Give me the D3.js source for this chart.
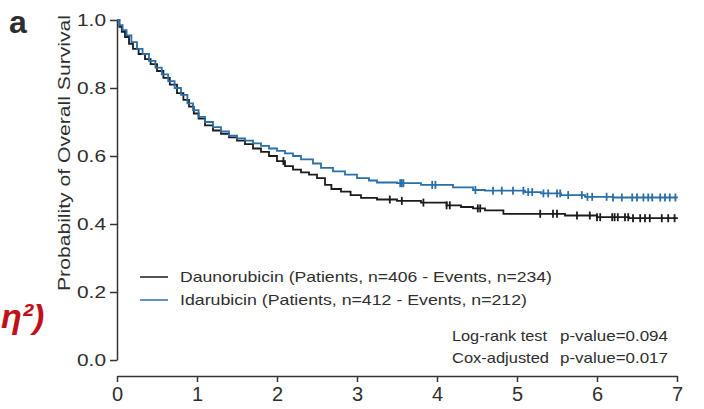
<!DOCTYPE html>
<html>
<head>
<meta charset="utf-8">
<script src="https://cdn.jsdelivr.net/npm/d3@7"></script>
<style>
  html, body { margin: 0; padding: 0; background: #fff; }
  svg { display: block; }
  text { font-family: "Liberation Sans", Arial, sans-serif; fill: #2e2e2e; }
</style>
</head>
<body>
<svg id="chart" width="704" height="409"></svg>
<script>
// Kaplan-Meier step estimates (years, survival probability)
const daunoTime = [0, 0.03, 0.06, 0.1, 0.15, 0.2, 0.27, 0.35, 0.42, 0.5, 0.58, 0.66, 0.75, 0.83, 0.9, 0.96,
  1.02, 1.1, 1.2, 1.3, 1.4, 1.5, 1.6, 1.7, 1.8, 1.9, 2.0, 2.1, 2.2, 2.3, 2.4, 2.5, 2.6, 2.68, 2.8, 2.92,
  3.05, 3.25, 3.5, 3.8, 4.12, 4.3, 4.45, 4.6, 4.83, 5.6, 6.0, 6.4, 7.0];
const daunoSurv = [1.0, 0.98, 0.965, 0.95, 0.93, 0.915, 0.9, 0.885, 0.87, 0.85, 0.83, 0.81, 0.785, 0.765, 0.745, 0.725,
  0.71, 0.69, 0.675, 0.665, 0.655, 0.645, 0.635, 0.622, 0.612, 0.6, 0.585, 0.57, 0.56, 0.552, 0.545, 0.535, 0.515, 0.503, 0.495, 0.485,
  0.477, 0.472, 0.468, 0.463, 0.455, 0.45, 0.446, 0.44, 0.43, 0.425, 0.42, 0.417, 0.415];

const idaTime = [0, 0.03, 0.07, 0.12, 0.18, 0.25, 0.32, 0.4, 0.48, 0.56, 0.64, 0.72, 0.8, 0.88, 0.95,
  1.02, 1.1, 1.2, 1.3, 1.4, 1.5, 1.6, 1.7, 1.8, 1.9, 2.0, 2.1, 2.2, 2.3, 2.45, 2.55, 2.7, 2.85,
  3.0, 3.15, 3.25, 3.5, 3.8, 4.2, 4.45, 4.6, 5.1, 5.3, 5.55, 5.85, 6.2, 7.0];
const idaSurv = [1.0, 0.985, 0.97, 0.955, 0.935, 0.915, 0.9, 0.88, 0.86, 0.84, 0.82, 0.8, 0.78, 0.755, 0.735,
  0.715, 0.7, 0.685, 0.672, 0.66, 0.652, 0.645, 0.637, 0.63, 0.622, 0.615, 0.608, 0.6, 0.59, 0.578, 0.565, 0.555, 0.545,
  0.535, 0.528, 0.522, 0.52, 0.515, 0.508, 0.5, 0.498, 0.494, 0.49, 0.485, 0.48, 0.478, 0.476];

// Censored observations (years)
const daunoCensor = [2.08, 3.41, 3.56, 3.83, 4.12, 4.16, 4.51, 4.54, 5.29, 5.45, 5.5, 5.75, 5.91, 6.0, 6.04,
  6.19, 6.22, 6.26, 6.35, 6.39, 6.45, 6.54, 6.6, 6.66, 6.81, 6.89, 6.97];
const idaCensor = [3.54, 3.56, 3.58, 3.94, 3.98, 4.48, 4.7, 4.81, 4.95, 5.08, 5.14, 5.19, 5.33, 5.39, 5.5, 5.54,
  5.64, 5.81, 5.88, 5.94, 6.12, 6.2, 6.31, 6.44, 6.5, 6.58, 6.64, 6.69, 6.79, 6.85, 6.91, 6.98];

const xTicks = [0, 1, 2, 3, 4, 5, 6, 7];
const yTicks = [0, 0.2, 0.4, 0.6, 0.8, 1.0];

const seriesNames = ["Daunorubicin (Patients, n=406 - Events, n=234)",
                     "Idarubicin (Patients, n=412 - Events, n=212)"];
const statLabels = ["Log-rank test", "Cox-adjusted"];
const statValues = ["p-value=0.094", "p-value=0.017"];

const colDauno = "#1b1b1b";
const colIda = "#2a6fa8";

const svg = d3.select("#chart");

const x = d3.scaleLinear().domain([0, 7]).range([117, 677]);
const y = d3.scaleLinear().domain([0, 1]).range([360, 20]);

// Y axis
const yAxis = svg.append("g")
  .attr("transform", `translate(${x(0)},0)`)
  .call(d3.axisLeft(y).tickValues(yTicks).tickFormat(d3.format(".1f")).tickSize(7).tickSizeOuter(0).tickPadding(4));
yAxis.select(".domain").attr("stroke", "#333").attr("stroke-width", 1.5);
yAxis.selectAll(".tick line").attr("stroke", "#333").attr("stroke-width", 1.5);
yAxis.selectAll(".tick text").attr("font-size", 17).attr("fill", "#2e2e2e")
  .attr("font-family", "Liberation Sans, Arial, sans-serif")
  .attr("textLength", 29).attr("lengthAdjust", "spacingAndGlyphs");

// X axis (offset below plot)
const xAxis = svg.append("g")
  .attr("transform", "translate(0,376)")
  .call(d3.axisBottom(x).tickValues(xTicks).tickFormat(d3.format("d")).tickSize(6).tickSizeOuter(0).tickPadding(5));
xAxis.select(".domain").attr("stroke", "#333").attr("stroke-width", 1.5);
xAxis.selectAll(".tick line").attr("stroke", "#333").attr("stroke-width", 1.5);
xAxis.selectAll(".tick text").attr("font-size", 20).attr("fill", "#2e2e2e")
  .attr("font-family", "Liberation Sans, Arial, sans-serif");

// Survival curves
const line = d3.line().x(d => x(d[0])).y(d => y(d[1])).curve(d3.curveStepAfter);
const series = [
  { t: daunoTime, s: daunoSurv, c: daunoCensor, col: colDauno },
  { t: idaTime, s: idaSurv, c: idaCensor, col: colIda }
];
series.forEach(sr => {
  const pts = sr.t.map((t, i) => [t, sr.s[i]]);
  svg.append("path").datum(pts)
    .attr("d", line).attr("fill", "none")
    .attr("stroke", sr.col).attr("stroke-width", 1.8);
  const valAt = t => sr.s[Math.max(0, d3.bisectRight(sr.t, t) - 1)];
  svg.append("g").selectAll("line").data(sr.c).join("line")
    .attr("x1", d => x(d)).attr("x2", d => x(d))
    .attr("y1", d => y(valAt(d)) - 4).attr("y2", d => y(valAt(d)) + 4)
    .attr("stroke", sr.col).attr("stroke-width", 1.8);
});

// Legend
const legend = svg.append("g");
[colDauno, colIda].forEach((c, i) => {
  const yy = 277 + i * 23;
  legend.append("line").attr("x1", 140).attr("x2", 168).attr("y1", yy).attr("y2", yy)
    .attr("stroke", c).attr("stroke-width", 1.5);
  legend.append("text").attr("x", 180).attr("y", yy + 5).attr("font-size", 15)
    .attr("textLength", i === 0 ? 372 : 347).attr("lengthAdjust", "spacingAndGlyphs")
    .text(seriesNames[i]);
});

// Test statistics
statLabels.forEach((lab, i) => {
  const yy = 341 + i * 22;
  svg.append("text").attr("x", 452).attr("y", yy).attr("font-size", 15)
    .attr("textLength", i === 0 ? 95 : 97).attr("lengthAdjust", "spacingAndGlyphs").text(lab);
  svg.append("text").attr("x", 560).attr("y", yy).attr("font-size", 15)
    .attr("textLength", 108).attr("lengthAdjust", "spacingAndGlyphs").text(statValues[i]);
});

// Axis title
svg.append("text")
  .attr("transform", "translate(70,153) rotate(-90)")
  .attr("text-anchor", "middle").attr("font-size", 16)
  .attr("textLength", 276).attr("lengthAdjust", "spacingAndGlyphs")
  .text("Probability of Overall Survival");

// Panel letter
svg.append("text").attr("x", 9).attr("y", 33).attr("font-size", 32).attr("font-weight", "bold")
  .attr("fill", "#222").text("a");

// Fragment of a neighbouring heading
svg.append("text").attr("x", 1).attr("y", 328).attr("font-size", 34)
  .attr("font-weight", "bold").attr("font-style", "italic")
  .style("fill", "#c0101c").text("η²)");
</script>
</body>
</html>
